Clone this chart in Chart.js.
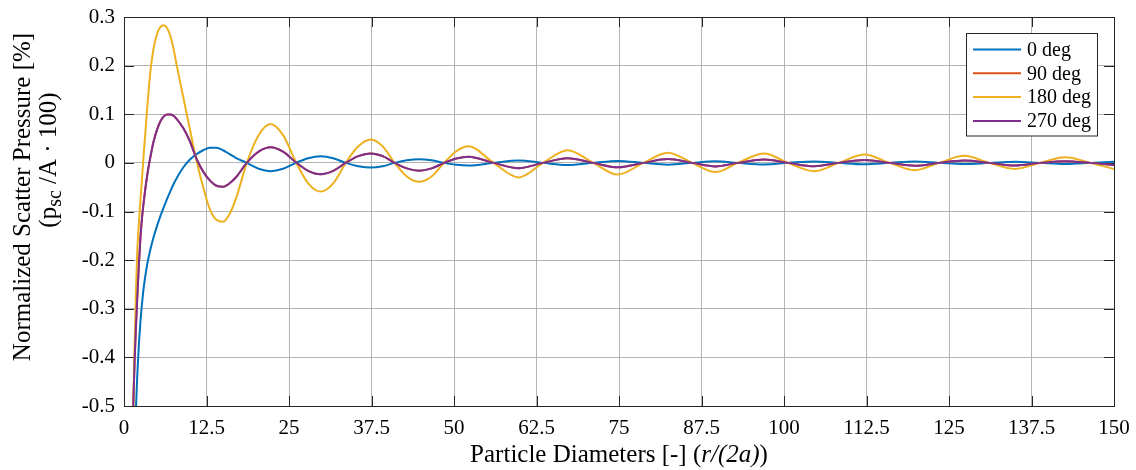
<!DOCTYPE html>
<html>
<head>
<meta charset="utf-8">
<script src="https://cdn.jsdelivr.net/npm/chart.js@4.4.1/dist/chart.umd.min.js"></script>
<style>
  html, body { margin: 0; padding: 0; background: #fff; }
</style>
</head>
<body>
<canvas id="scatterChart" width="1136" height="470"></canvas>
<script>
const diameters = [
  1.2, 1.4, 1.6, 1.8, 2.0, 2.25, 2.5, 2.75, 3.0, 3.5,
  4.0, 4.5, 5.0, 5.5, 6.0, 6.5, 7.0, 7.5, 8.0, 9.0,
  10, 11, 12, 13, 14, 15, 16, 17, 18.6, 20.4,
  22.2, 24.1, 26.05, 27.9, 29.8, 31.7, 33.6, 35.5, 37.4, 39.2,
  41, 42.85, 44.7, 46.6, 48.5, 50.35, 52.2, 56, 59.8, 63.5,
  67.2, 71.1, 74.8, 78.7, 82.4, 86.1, 89.6, 93, 97, 100.6,
  104.6, 108.3, 112.2, 116, 119.8, 123.5, 127.3, 131.1, 135, 138.8,
  142.6, 146.4, 150
]

const deg0 = [
  -0.9, -0.72, -0.6, -0.51, -0.44, -0.375, -0.325, -0.287, -0.255, -0.21,
  -0.178, -0.152, -0.13, -0.11, -0.092, -0.075, -0.059, -0.044, -0.031, -0.009,
  0.007, 0.018, 0.026, 0.031, 0.031, 0.026, 0.018, 0.01, 0, -0.012,
  -0.017, -0.012, 0, 0.0095, 0.0135, 0.0095, 0, -0.0068, -0.0097, -0.0068,
  0, 0.0053, 0.0075, 0.0053, 0, -0.0039, -0.0055, 0, 0.005, 0,
  -0.0042, 0, 0.004, 0, -0.0036, 0, 0.0034, 0, -0.0031, 0,
  0.003, 0, -0.0028, 0, 0.0027, 0, -0.0025, 0, 0.0024, 0,
  -0.0023, 0, 0.0022
]

const deg180 = [
  -0.68, -0.51, -0.38, -0.27, -0.185, -0.125, -0.075, -0.028, 0.02, 0.11,
  0.188, 0.237, 0.265, 0.279, 0.283, 0.278, 0.262, 0.235, 0.2, 0.134,
  0.068, 0.004, -0.05, -0.095, -0.117, -0.121, -0.105, -0.072, 0, 0.057,
  0.08, 0.057, 0.002, -0.042, -0.059, -0.042, 0, 0.034, 0.048, 0.034,
  0, -0.028, -0.039, -0.028, 0, 0.024, 0.034, 0, -0.03, 0,
  0.026, 0, -0.024, 0, 0.021, 0, -0.019, 0, 0.0195, 0,
  -0.017, 0, 0.017, 0, -0.015, 0, 0.0145, 0, -0.0125, 0,
  0.0115, 0, -0.0125
]

const deg270 = [
  -0.6, -0.5, -0.41, -0.34, -0.28, -0.21, -0.152, -0.11, -0.079, -0.027,
  0.012, 0.045, 0.068, 0.085, 0.095, 0.0995, 0.0995, 0.097, 0.09, 0.071,
  0.044, 0.008, -0.018, -0.036, -0.047, -0.049, -0.042, -0.029, 0, 0.023,
  0.032, 0.023, 0.001, -0.0165, -0.0235, -0.0165, 0, 0.0138, 0.0195, 0.0138,
  0, -0.0113, -0.016, -0.0113, 0, 0.009, 0.0128, 0, -0.011, 0,
  0.0095, 0, -0.009, 0, 0.0078, 0, -0.0072, 0, 0.0068, 0,
  -0.0068, 0, 0.0058, 0, -0.006, 0, 0.0048, 0, -0.0055, 0,
  0.0035, 0, -0.0045
]

// the 90 deg curve sits exactly under the 270 deg one in the picture
const deg90 = deg270

const seriesLabels = ['0 deg', '90 deg', '180 deg', '270 deg']
const seriesColors = ['#0072BD', '#D95319', '#EDB120', '#7E2F8E']
const seriesValues = [deg0, deg90, deg180, deg270]

const xTickStep = 12.5
const yTickStep = 0.1

const FONT = '"Liberation Serif", "Times New Roman", serif'
const INK = '#262626'

var toPoints = function(ys){
  return diameters.map((x, i) => ({ x: x, y: ys[i] }))
}

// axes box, inward tick marks, legend and axis titles in the matlab look
const matlabLook = {
  id: 'matlabLook',
  beforeDatasetsDraw(chart){
    const ctx = chart.ctx
    const area = chart.chartArea
    const xs = chart.scales.x
    const ys = chart.scales.y
    const tl = 10
    ctx.save()
    ctx.strokeStyle = INK
    ctx.lineWidth = 1
    ctx.beginPath()
    xs.ticks.forEach(t => {
      const px = Math.round(xs.getPixelForValue(t.value)) + 0.5
      ctx.moveTo(px, area.bottom); ctx.lineTo(px, area.bottom - tl)
      ctx.moveTo(px, area.top); ctx.lineTo(px, area.top + tl)
    })
    ys.ticks.forEach(t => {
      const py = Math.round(ys.getPixelForValue(t.value)) + 0.5
      ctx.moveTo(area.left, py); ctx.lineTo(area.left + tl, py)
      ctx.moveTo(area.right, py); ctx.lineTo(area.right - tl, py)
    })
    ctx.stroke()
    ctx.strokeRect(Math.round(area.left) + 0.5, Math.round(area.top) + 0.5,
      Math.round(area.right - area.left), Math.round(area.bottom - area.top))
    ctx.restore()
  },
  afterDraw(chart){
    const ctx = chart.ctx
    const area = chart.chartArea
    ctx.save()

    // legend
    const lx = 966.5, ly = 33.5, lw = 131, lh = 102.5
    ctx.fillStyle = '#fff'
    ctx.fillRect(lx, ly, lw, lh)
    ctx.strokeStyle = INK
    ctx.lineWidth = 1
    ctx.strokeRect(lx, ly, lw, lh)
    ctx.font = '20px ' + FONT
    ctx.textAlign = 'left'
    ctx.textBaseline = 'middle'
    chart.data.datasets.forEach((ds, i) => {
      const cy = 49.5 + i * 23.8
      ctx.strokeStyle = ds.borderColor
      ctx.lineWidth = 2
      ctx.beginPath()
      ctx.moveTo(973, cy); ctx.lineTo(1021, cy)
      ctx.stroke()
      ctx.fillStyle = '#000'
      ctx.fillText(ds.label, 1027, cy + 1)
    })

    // rich text helper: parts laid out left to right around a centre
    var drawParts = function(parts, cx, cy){
      let total = 0
      parts.forEach(p => { ctx.font = p.font; p.w = ctx.measureText(p.t).width; total += p.w })
      let x = cx - total / 2
      parts.forEach(p => { ctx.font = p.font; ctx.fillText(p.t, x, cy + (p.dy || 0)); x += p.w })
    }

    ctx.fillStyle = '#000'
    ctx.textAlign = 'left'
    ctx.textBaseline = 'middle'
    const big = '25px ' + FONT
    const ital = 'italic 25px ' + FONT
    const small = '20px ' + FONT

    // x axis title
    drawParts([
      { t: 'Particle Diameters [-] (', font: big },
      { t: 'r/(2a)', font: ital },
      { t: ')', font: big }
    ], (area.left + area.right) / 2, 455)

    // y axis title, two lines
    ctx.save()
    ctx.translate(23, 197)
    ctx.rotate(-Math.PI / 2)
    drawParts([{ t: 'Normalized Scatter Pressure [%]', font: big }], 0, 0)
    ctx.restore()

    ctx.save()
    ctx.translate(49, 160)
    ctx.rotate(-Math.PI / 2)
    drawParts([
      { t: '(p', font: big },
      { t: 'sc', font: small, dy: 7 },
      { t: ' /A \u00B7 100)', font: big }
    ], 0, 0)
    ctx.restore()

    ctx.restore()
  }
}

const datasets = seriesLabels.map((label, i) => ({
  label: label,
  data: toPoints(seriesValues[i]),
  borderColor: seriesColors[i],
  backgroundColor: seriesColors[i],
  borderWidth: 2,
  pointRadius: 0,
  fill: false,
  cubicInterpolationMode: 'monotone',
  order: seriesLabels.length - i
}))

const config = {
  type: 'line',
  data: { datasets: datasets },
  options: {
    responsive: false,
    animation: false,
    layout: { padding: { top: 17, right: 22, left: 0, bottom: 0 } },
    plugins: {
      legend: { display: false },
      tooltip: { enabled: false }
    },
    scales: {
      x: {
        type: 'linear',
        min: 0,
        max: 150,
        afterFit: function(s){
          s.height = 64
          s.paddingLeft = 0
          s.paddingRight = 0
        },
        ticks: {
          stepSize: xTickStep,
          autoSkip: false,
          maxRotation: 0,
          padding: 10,
          color: '#000',
          font: { family: FONT, size: 21 },
          callback: v => String(v)
        },
        grid: { color: '#b4b4b4', drawTicks: false },
        border: { display: false }
      },
      y: {
        min: -0.5,
        max: 0.3,
        afterFit: function(s){
          s.width = 124
          s.paddingTop = 0
          s.paddingBottom = 0
        },
        ticks: {
          stepSize: yTickStep,
          padding: 9,
          color: '#000',
          font: { family: FONT, size: 21 },
          callback: v => Math.abs(v) < 1e-9 ? '0' : v.toFixed(1)
        },
        grid: { color: '#b4b4b4', drawTicks: false },
        border: { display: false }
      }
    }
  },
  plugins: [matlabLook]
}

const scatterChart = new Chart(document.getElementById('scatterChart'), config)
</script>
</body>
</html>
